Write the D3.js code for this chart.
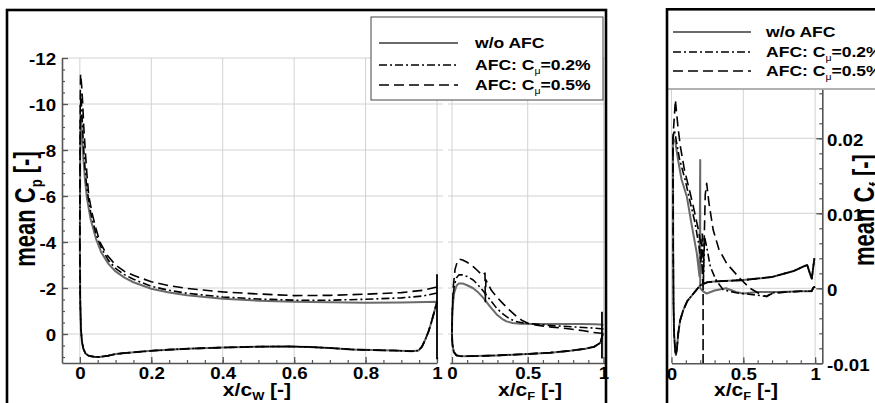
<!DOCTYPE html>
<html>
<head>
<meta charset="utf-8">
<script src="https://cdn.jsdelivr.net/npm/d3@7"></script>
<style>
  body { margin: 0; background: #fff; }
</style>
</head>
<body>
<script>
// ---- data ----
var seriesNames = ["w/o AFC", "AFC: C\u03bc=0.2%", "AFC: C\u03bc=0.5%"];

var cpTicks = [-12, -10, -8, -6, -4, -2, 0];
var wingXTicks = [0, 0.2, 0.4, 0.6, 0.8, 1];
var flapXTicks = [0, 0.5, 1];
var cfTicks = [-0.01, 0, 0.01, 0.02];
var cfXTicks = [0, 0.5, 1];

// wing, suction side, leading edge -> trailing edge  [x/cW, Cp]
var wingBaseUp = [[0.0,-4.0],[0.001,-8.0],[0.003,-9.4],[0.006,-8.7],[0.01,-7.6],[0.015,-6.6],[0.02,-5.9],[0.03,-5.0],[0.045,-4.15],[0.06,-3.55],[0.08,-3.05],[0.1,-2.72],[0.125,-2.45],[0.15,-2.25],[0.2,-1.97],[0.25,-1.8],[0.3,-1.68],[0.4,-1.53],[0.5,-1.45],[0.6,-1.40],[0.7,-1.38],[0.8,-1.36],[0.9,-1.37],[0.97,-1.39],[1.0,-1.40]];
var wingAfc02Up = [[0.0,-4.0],[0.001,-9.0],[0.003,-10.4],[0.006,-9.5],[0.01,-8.2],[0.015,-7.1],[0.02,-6.3],[0.03,-5.3],[0.045,-4.35],[0.06,-3.75],[0.08,-3.2],[0.1,-2.85],[0.125,-2.58],[0.15,-2.38],[0.2,-2.07],[0.25,-1.9],[0.3,-1.77],[0.4,-1.61],[0.5,-1.52],[0.6,-1.47],[0.7,-1.47],[0.8,-1.51],[0.9,-1.57],[0.96,-1.65],[1.0,-1.78]];
var wingAfc05Up = [[0.0,-4.0],[0.001,-10.2],[0.002,-11.3],[0.005,-10.8],[0.008,-10.0],[0.011,-9.0],[0.015,-8.0],[0.02,-6.9],[0.025,-6.0],[0.035,-5.2],[0.045,-4.6],[0.056,-4.0],[0.075,-3.45],[0.1,-3.0],[0.125,-2.72],[0.15,-2.55],[0.2,-2.27],[0.25,-2.1],[0.3,-1.98],[0.4,-1.83],[0.5,-1.74],[0.6,-1.67],[0.7,-1.68],[0.8,-1.73],[0.9,-1.8],[0.96,-1.9],[1.0,-2.04]];
// wing, pressure side (all three cases lie on top of each other)
var wingLower = [[0.0,-4.0],[0.001,-1.5],[0.003,-0.2],[0.006,0.35],[0.01,0.65],[0.016,0.85],[0.025,0.95],[0.04,0.99],[0.055,1.0],[0.08,0.94],[0.1,0.87],[0.12,0.84],[0.16,0.78],[0.2,0.73],[0.25,0.68],[0.3,0.64],[0.4,0.59],[0.5,0.55],[0.58,0.54],[0.64,0.56],[0.7,0.61],[0.76,0.67],[0.82,0.7],[0.88,0.72],[0.93,0.75],[0.948,0.72],[0.958,0.55],[0.967,0.25],[0.976,-0.1],[0.985,-0.55],[0.993,-1.0],[1.0,-1.4]];
var wingTeSpike = [[1.0,-2.6],[1.0,1.1]];

// flap  [x/cF, Cp]
var flapBaseUp = [[0.0,0.0],[0.001,-0.6],[0.006,-1.3],[0.015,-1.8],[0.03,-2.1],[0.045,-2.2],[0.07,-2.2],[0.1,-2.12],[0.14,-1.99],[0.17,-1.83],[0.21,-1.55],[0.25,-1.2],[0.295,-0.85],[0.33,-0.66],[0.36,-0.55],[0.4,-0.48],[0.45,-0.45],[0.55,-0.44],[0.7,-0.43],[0.85,-0.43],[0.95,-0.42],[1.0,-0.4]];
var flapAfc02Up = [[0.0,0.0],[0.001,-0.7],[0.006,-1.5],[0.015,-2.1],[0.03,-2.45],[0.045,-2.57],[0.07,-2.57],[0.1,-2.5],[0.14,-2.35],[0.17,-2.15],[0.21,-1.84],[0.25,-1.5],[0.295,-1.12],[0.34,-0.85],[0.38,-0.66],[0.42,-0.55],[0.47,-0.48],[0.55,-0.43],[0.67,-0.36],[0.8,-0.31],[0.93,-0.26],[1.0,-0.22]];
var flapAfc05Up = [[0.0,0.0],[0.002,-1.0],[0.008,-2.0],[0.02,-2.8],[0.035,-3.15],[0.05,-3.25],[0.07,-3.22],[0.1,-3.12],[0.14,-2.93],[0.17,-2.75],[0.2,-2.55],[0.218,-2.65],[0.22,-1.4],[0.224,-2.35],[0.26,-1.9],[0.295,-1.62],[0.34,-1.3],[0.38,-1.04],[0.42,-0.8],[0.46,-0.6],[0.5,-0.47],[0.56,-0.38],[0.66,-0.3],[0.78,-0.22],[0.87,-0.14],[0.93,-0.07],[1.0,-0.02]];
var flapLower = [[0.0,0.0],[0.003,0.45],[0.012,0.78],[0.03,0.93],[0.06,0.97],[0.15,0.96],[0.3,0.93],[0.5,0.87],[0.65,0.81],[0.78,0.73],[0.88,0.64],[0.94,0.55],[0.98,0.38],[0.995,0.0]];
var flapTeSpike = [[0.99,-0.97],[0.99,1.06]];

// flap skin friction  [x/cF, Cf]
var cfBaseUp = [[0.01,0.02],[0.027,0.0195],[0.045,0.0172],[0.07,0.0145],[0.107,0.0122],[0.14,0.0085],[0.176,0.0047],[0.195,0.0016],[0.2,0.0171],[0.2,0.0],[0.22,-0.0004],[0.245,-0.0007],[0.3,-0.0003],[0.38,0.0],[0.45,-0.0005],[0.5,-0.0007],[0.6,-0.0005],[0.75,-0.0005],[0.9,-0.0004],[0.975,-0.0004],[0.988,0.0001],[1.0,0.0002]];
var cfAfc02Up = [[0.01,0.02],[0.02,0.0211],[0.035,0.0195],[0.055,0.0173],[0.096,0.0144],[0.13,0.0115],[0.164,0.0087],[0.19,0.0058],[0.205,0.0035],[0.215,0.0075],[0.222,0.0008],[0.23,0.0069],[0.245,0.0055],[0.27,0.0029],[0.31,0.0011],[0.36,-0.0002],[0.45,-0.0006],[0.59,-0.0009],[0.66,-0.0011],[0.7,-0.0006],[0.8,-0.0005],[0.9,-0.0004],[0.975,-0.0004],[0.988,0.0001],[1.0,0.0002]];
var cfAfc05Up = [[0.01,0.02],[0.027,0.0251],[0.045,0.0215],[0.062,0.0189],[0.09,0.0158],[0.13,0.0127],[0.16,0.0102],[0.187,0.0078],[0.205,0.0058],[0.22,0.0],[0.22,-0.0105],[0.22,0.0],[0.235,0.0125],[0.245,0.014],[0.26,0.0115],[0.29,0.0078],[0.33,0.0052],[0.385,0.0033],[0.477,0.0013],[0.547,0.0],[0.62,-0.0008],[0.663,-0.0011],[0.7,-0.0007],[0.8,-0.0005],[0.9,-0.0004],[0.975,-0.0004],[0.988,0.0001],[1.0,0.0002]];
var cfLower = [[0.01,0.02],[0.012,0.005],[0.014,-0.002],[0.018,-0.006],[0.025,-0.0082],[0.031,-0.0089],[0.038,-0.008],[0.047,-0.006],[0.06,-0.0043],[0.082,-0.0029],[0.11,-0.0017],[0.153,-0.0007],[0.2,0.0004],[0.25,0.0008],[0.3,0.0009],[0.4,0.001],[0.5,0.0011],[0.6,0.0013],[0.7,0.0015],[0.756,0.0018],[0.85,0.0023],[0.918,0.0029],[0.945,0.0031],[0.965,0.0019],[0.977,0.0013],[0.988,0.003],[0.995,0.004]];

// ---- styles ----
var FONT = "'Liberation Sans', Arial, Helvetica, sans-serif";
var SX = 1.17; // the figure is a bit wider than tall-drawn text
var styles = [
  { stroke: "#6a6a6a", width: 2.0, dash: null },
  { stroke: "#000", width: 1.6, dash: "8,3,2,3" },
  { stroke: "#000", width: 1.6, dash: "10,5" }
];
var gridColor = "#d2d2d2";
var axisColor = "#555";

var svg = d3.select("body").append("svg")
  .attr("width", 875)
  .attr("height", 403)
  .style("display", "block");

svg.append("rect").attr("width", 875).attr("height", 403).attr("fill", "#fff");

// ---- scales ----
var xW = d3.scaleLinear().domain([-0.05, 1]).range([62, 437]);
var xF = d3.scaleLinear().domain([-0.015, 1.01]).range([449.7, 605]);
var yCp = d3.scaleLinear().domain([-12, 1.25]).range([58, 362.75]);
var xC = d3.scaleLinear().domain([0, 1.05]).range([671.5, 822.3]);
var yCf = d3.scaleLinear().domain([-0.01, 0.02657]).range([363.3, 89]);

var defs = svg.append("defs");
function clip(id, x0, y0, x1, y1) {
  defs.append("clipPath").attr("id", id).append("rect")
    .attr("x", x0).attr("y", y0).attr("width", x1 - x0).attr("height", y1 - y0);
}
clip("cw", 62, 40, 443, 363);
clip("cfl", 448, 40, 606, 363);
clip("ccf", 671, 89, 822.3, 363.3);

function txt(sel, x, y, anchor, size) {
  return sel.append("text")
    .attr("transform", "translate(" + x + "," + y + ") scale(" + SX + ",1)")
    .attr("text-anchor", anchor)
    .attr("font-family", FONT)
    .attr("font-weight", "bold")
    .attr("font-size", size)
    .attr("fill", "#000");
}

function hgrid(vals, y, x0, x1) {
  svg.append("g").selectAll("line").data(vals).enter().append("line")
    .attr("x1", x0).attr("x2", x1)
    .attr("y1", function (d) { return y(d); }).attr("y2", function (d) { return y(d); })
    .attr("stroke", gridColor).attr("stroke-width", 1);
}
function vgrid(vals, x, y0, y1) {
  svg.append("g").selectAll("line").data(vals).enter().append("line")
    .attr("y1", y0).attr("y2", y1)
    .attr("x1", function (d) { return x(d); }).attr("x2", function (d) { return x(d); })
    .attr("stroke", gridColor).attr("stroke-width", 1);
}

// ---- grids ----
hgrid(cpTicks, yCp, 62, 443);
hgrid(cpTicks, yCp, 448, 605);
vgrid(wingXTicks, xW, 58, 363);
vgrid(flapXTicks, xF, 58, 363);
hgrid([0, 0.01, 0.02], yCf, 671, 822);
vgrid(cfXTicks, xC, 89, 363);

// ---- axes ----
function styleAxis(g, size) {
  g.attr("color", axisColor);
  g.selectAll("path.domain").attr("stroke-width", 1.6);
  g.selectAll(".tick line").attr("stroke-width", 1.3);
  g.selectAll("text")
    .attr("fill", "#000")
    .attr("font-family", FONT)
    .attr("font-weight", "bold")
    .attr("font-size", size);
}
function minor(axis, at, vals, len) {
  var g = svg.append("g").attr("transform", at)
    .call(axis.tickValues(vals).tickSizeInner(-len).tickSizeOuter(0).tickFormat(""));
  g.select("path.domain").remove();
  g.attr("color", axisColor).selectAll(".tick line").attr("stroke-width", 1.2);
}
var str = function (d) { return String(d); };

// wing bottom
minor(d3.axisBottom(xW), "translate(0,363)", d3.range(0.05, 1, 0.05), 3);
var gWB = svg.append("g").attr("transform", "translate(0,363)")
  .call(d3.axisBottom(xW).tickValues(wingXTicks).tickSizeInner(-6).tickSizeOuter(0).tickPadding(5).tickFormat(str));
styleAxis(gWB, 16);
gWB.selectAll("text").attr("transform", "scale(" + SX + ",1)");

// flap bottom
minor(d3.axisBottom(xF), "translate(0,363)", d3.range(0.1, 1, 0.1), 3);
var gFB = svg.append("g").attr("transform", "translate(0,363)")
  .call(d3.axisBottom(xF).tickValues(flapXTicks).tickSizeInner(-6).tickSizeOuter(0).tickPadding(5).tickFormat(str));
styleAxis(gFB, 16);
gFB.selectAll("text").attr("transform", "scale(" + SX + ",1)");

// Cp left
minor(d3.axisLeft(yCp), "translate(62,0)", d3.range(-11.5, 1.01, 0.5), 3);
var gL = svg.append("g").attr("transform", "translate(62,0)")
  .call(d3.axisLeft(yCp).tickValues(cpTicks).tickSizeInner(-6).tickSizeOuter(0).tickPadding(5).tickFormat(str));
styleAxis(gL, 16);
gL.selectAll("text").attr("dy", "0.42em").attr("transform", "scale(" + SX + ",1)");

// Cf bottom
minor(d3.axisBottom(xC), "translate(0,363.3)", d3.range(0.1, 1.01, 0.1), 3);
var gCB = svg.append("g").attr("transform", "translate(0,363.3)")
  .call(d3.axisBottom(xC).tickValues(cfXTicks).tickSizeInner(-6).tickSizeOuter(0).tickPadding(5).tickFormat(str));
styleAxis(gCB, 16);
gCB.selectAll("text").attr("transform", "scale(" + SX + ",1)");

// Cf right
minor(d3.axisRight(yCf), "translate(822.3,0)", d3.range(-0.008, 0.0265, 0.002), 3);
var gR = svg.append("g").attr("transform", "translate(822.3,0)")
  .call(d3.axisRight(yCf).tickValues(cfTicks).tickSizeInner(-6).tickSizeOuter(0).tickPadding(4).tickFormat(str));
styleAxis(gR, 16);
gR.selectAll("text").attr("dy", "0.42em").attr("transform", "scale(" + SX + ",1)");

// top line of the Cf plot
svg.append("line").attr("x1", 667).attr("x2", 875).attr("y1", 89).attr("y2", 89)
  .attr("stroke", "#999").attr("stroke-width", 1.5);

// ---- curves ----
function curve(clipId, x, y, data, st) {
  svg.append("path")
    .attr("clip-path", "url(#" + clipId + ")")
    .attr("d", d3.line().x(function (d) { return x(d[0]); }).y(function (d) { return y(d[1]); })(data))
    .attr("fill", "none")
    .attr("stroke", st.stroke)
    .attr("stroke-width", st.width)
    .attr("stroke-dasharray", st.dash)
    .attr("stroke-linejoin", "round");
}
function loop(up, low) { return up.slice().reverse().concat(low); }

var wingUps = [wingBaseUp, wingAfc02Up, wingAfc05Up];
var flapUps = [flapBaseUp, flapAfc02Up, flapAfc05Up];
var cfUps = [cfBaseUp, cfAfc02Up, cfAfc05Up];
var spikeStyle = { stroke: "#000", width: 1.8, dash: null };

// the grey baseline first, the black AFC curves over it
[0, 1, 2].forEach(function (i) {
  curve("cw", xW, yCp, loop(wingUps[i], wingLower), styles[i]);
  curve("cfl", xF, yCp, loop(flapUps[i], flapLower), styles[i]);
  curve("ccf", xC, yCf, loop(cfUps[i], cfLower), styles[i]);
});
curve("cw", xW, yCp, wingTeSpike, spikeStyle);
curve("cfl", xF, yCp, flapTeSpike, spikeStyle);

// ---- axis titles ----
function xTitle(x, sub) {
  var t = txt(svg, x, 396, "middle", 18);
  t.append("tspan").text("x/c");
  t.append("tspan").attr("font-size", 11).attr("dy", 4).text(sub);
  t.append("tspan").attr("dy", -4).text(" [-]");
}
xTitle(257, "W");
xTitle(530, "F");
xTitle(746, "F");

function yTitle(x, y, sub) {
  var t = svg.append("text")
    .attr("transform", "translate(" + x + "," + y + ") rotate(-90) scale(1,1.3)")
    .attr("text-anchor", "middle")
    .attr("font-family", FONT).attr("font-weight", "bold").attr("font-size", 22)
    .attr("fill", "#000");
  t.append("tspan").text("mean C");
  t.append("tspan").attr("font-size", 13).attr("dy", 5).text(sub);
  t.append("tspan").attr("dy", -5).text(" [-]");
}
yTitle(35, 209, "p");
yTitle(874, 210, "f");

// ---- legends ----
function legend(x0, x1, tx, rows) {
  rows.forEach(function (ry, i) {
    svg.append("line").attr("x1", x0).attr("x2", x1).attr("y1", ry).attr("y2", ry)
      .attr("stroke", styles[i].stroke).attr("stroke-width", styles[i].width)
      .attr("stroke-dasharray", styles[i].dash);
    var t = txt(svg, tx, ry + 5, "start", 15);
    if (i === 0) {
      t.text(seriesNames[0]);
    } else {
      var parts = seriesNames[i].split("\u03bc");
      t.append("tspan").text(parts[0]);
      t.append("tspan").attr("font-size", 9).attr("font-weight", "normal").attr("dy", 4).text("\u03bc");
      t.append("tspan").attr("dy", -4).text(parts[1]);
    }
  });
}
svg.append("rect").attr("x", 371).attr("y", 17).attr("width", 232).attr("height", 83)
  .attr("fill", "#fff").attr("stroke", "#444").attr("stroke-width", 1);
legend(379, 458, 475, [43, 65, 85]);
legend(673, 751, 766, [32, 52, 71]);

// ---- panel frames ----
svg.append("rect").attr("x", 7).attr("y", 10).attr("width", 599).attr("height", 410)
  .attr("fill", "none").attr("stroke", "#000").attr("stroke-width", 2.6);
svg.append("rect").attr("x", 667).attr("y", 9.3).attr("width", 230).attr("height", 410)
  .attr("fill", "none").attr("stroke", "#000").attr("stroke-width", 2.6);
</script>
</body>
</html>
